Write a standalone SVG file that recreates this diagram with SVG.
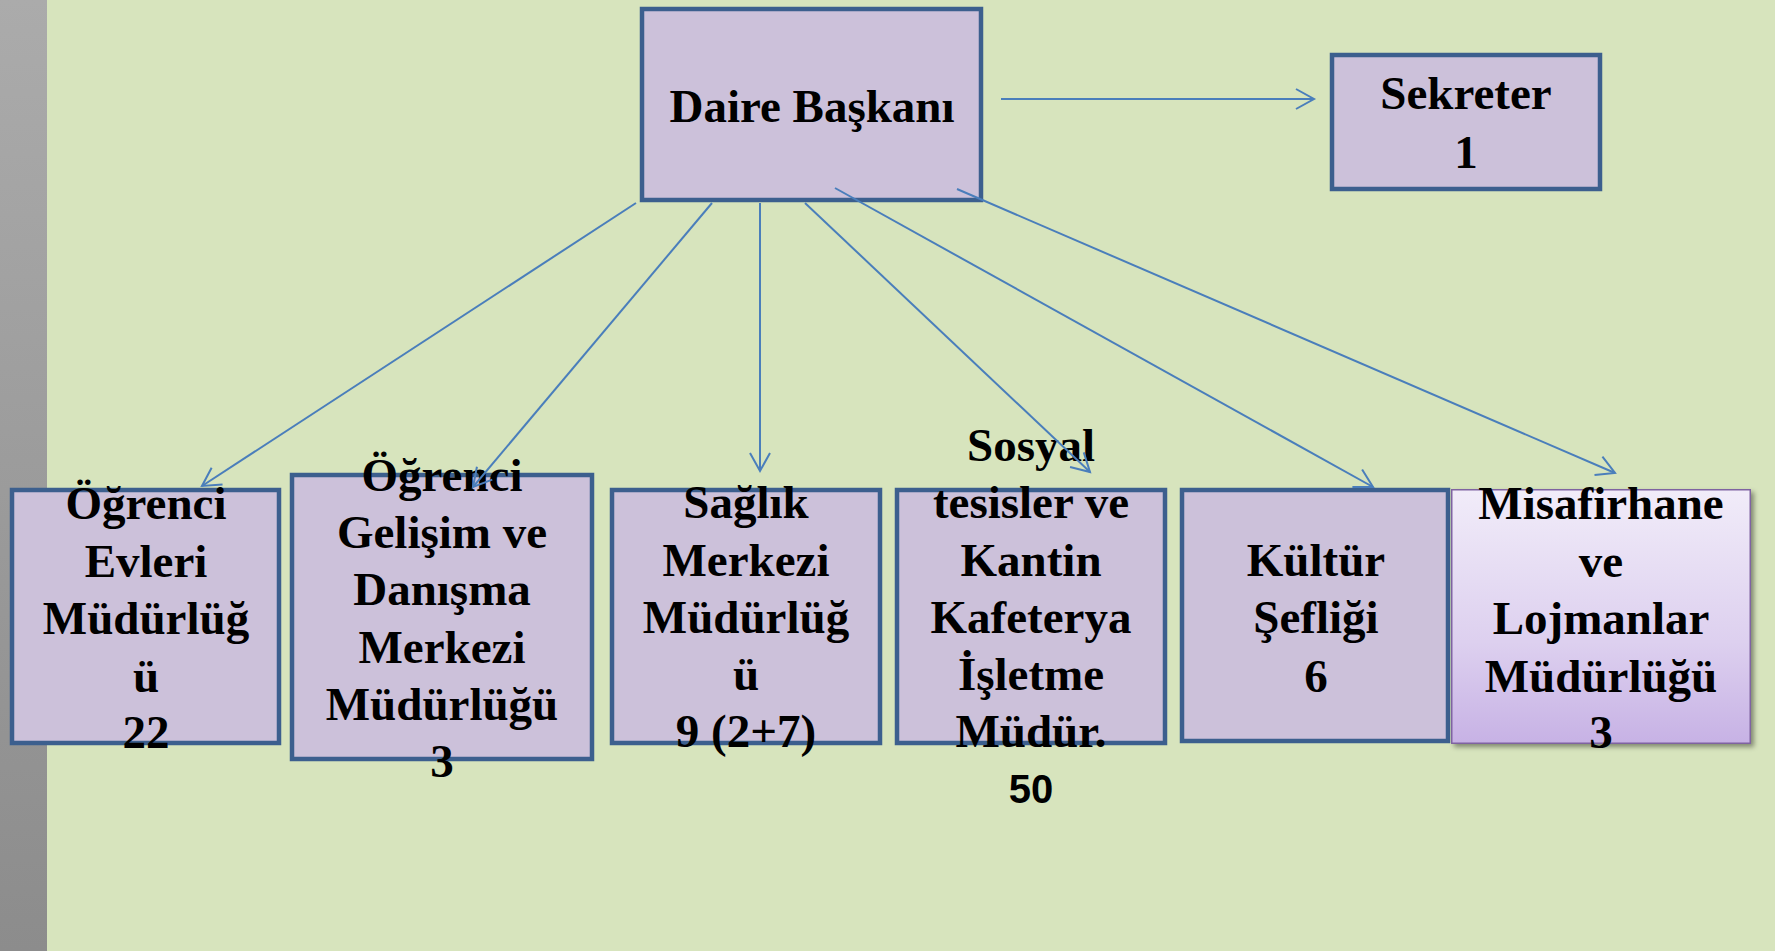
<svg xmlns="http://www.w3.org/2000/svg" width="1775" height="951" viewBox="0 0 1775 951">
<defs>
<linearGradient id="bar" x1="0" y1="0" x2="0" y2="1">
<stop offset="0" stop-color="#ababab"/>
<stop offset="1" stop-color="#8c8c8c"/>
</linearGradient>
<linearGradient id="mis" x1="0" y1="0" x2="0" y2="1">
<stop offset="0" stop-color="#f1ecf9"/>
<stop offset="0.6" stop-color="#ddd0ef"/>
<stop offset="1" stop-color="#c7b2e5"/>
</linearGradient>
<filter id="sh" x="-10%" y="-10%" width="130%" height="130%">
<feDropShadow dx="3" dy="3" stdDeviation="2.5" flood-color="#000" flood-opacity="0.4"/>
</filter>
<marker id="ah" markerUnits="userSpaceOnUse" markerWidth="24" markerHeight="26" viewBox="-20 -12 24 24" refX="0" refY="0" orient="auto">
<path d="M-18,-10 L0,0 L-18,10" fill="none" stroke="#4a7ebb" stroke-width="2"/>
</marker>
<style>
.box{fill:#ccc1da;stroke:#3c5f8e;stroke-width:4.5}
.t{font-family:"Liberation Serif","Times New Roman",serif;font-weight:bold;font-size:47px;fill:#000;text-anchor:middle}
.n{font-family:"Liberation Sans",Arial,sans-serif;font-weight:bold;font-size:40px;fill:#000;text-anchor:middle}
.c{fill:none;stroke:#4a7ebb;stroke-width:2;marker-end:url(#ah)}
</style>
</defs>
<rect x="0" y="0" width="1775" height="951" fill="#d7e4bd"/>
<rect x="0" y="0" width="47" height="951" fill="url(#bar)"/>

<g id="daire">
<rect class="box" x="642" y="9" width="339" height="191"/>
<text class="t" x="812" y="122">Daire Başkanı</text>
</g>
<g id="sekreter">
<rect class="box" x="1332" y="55" width="268" height="134"/>
<text class="t" x="1466" y="109">Sekreter</text>
<text class="t" x="1466" y="168">1</text>
</g>
<g id="ogrenci-evleri">
<rect class="box" x="12" y="490" width="267" height="253"/>
<text class="t" x="146" y="519">Öğrenci</text>
<text class="t" x="146" y="577">Evleri</text>
<text class="t" x="146" y="634">Müdürlüğ</text>
<text class="t" x="146" y="692">ü</text>
<text class="t" x="146" y="748">22</text>
</g>
<g id="ogrenci-gelisim">
<rect class="box" x="292" y="475" width="300" height="284"/>
<text class="t" x="442" y="491">Öğrenci</text>
<text class="t" x="442" y="548">Gelişim ve</text>
<text class="t" x="442" y="605">Danışma</text>
<text class="t" x="442" y="663">Merkezi</text>
<text class="t" x="442" y="720">Müdürlüğü</text>
<text class="t" x="442" y="777">3</text>
</g>
<g id="saglik">
<rect class="box" x="612" y="490" width="268" height="253"/>
<text class="t" x="746" y="518">Sağlık</text>
<text class="t" x="746" y="576">Merkezi</text>
<text class="t" x="746" y="633">Müdürlüğ</text>
<text class="t" x="746" y="690">ü</text>
<text class="t" x="746" y="747">9 (2+7)</text>
</g>
<g id="sosyal">
<rect class="box" x="897" y="490" width="268" height="253"/>
<text class="t" x="1031" y="461">Sosyal</text>
<text class="t" x="1031" y="518">tesisler ve</text>
<text class="t" x="1031" y="576">Kantin</text>
<text class="t" x="1031" y="633">Kafeterya</text>
<text class="t" x="1031" y="690">İşletme</text>
<text class="t" x="1031" y="747">Müdür.</text>
<text class="n" x="1031" y="803">50</text>
</g>
<g id="kultur">
<rect class="box" x="1182" y="490" width="266" height="251"/>
<text class="t" x="1316" y="576">Kültür</text>
<text class="t" x="1316" y="633">Şefliği</text>
<text class="t" x="1316" y="692">6</text>
</g>
<g id="misafirhane">
<rect x="1451.75" y="489.75" width="298.5" height="253.5" fill="url(#mis)" stroke="#7f63a1" stroke-width="1.5" filter="url(#sh)"/>
<text class="t" x="1601" y="519">Misafirhane</text>
<text class="t" x="1601" y="577">ve</text>
<text class="t" x="1601" y="634">Lojmanlar</text>
<text class="t" x="1601" y="692">Müdürlüğü</text>
<text class="t" x="1601" y="748">3</text>
</g>

<g id="connectors">
<line class="c" x1="1001" y1="99" x2="1314" y2="99"/>
<line class="c" x1="636" y1="203" x2="202" y2="486"/>
<line class="c" x1="712" y1="203" x2="473" y2="487"/>
<line class="c" x1="760" y1="203" x2="760" y2="471"/>
<line class="c" x1="805" y1="203" x2="1090" y2="472"/>
<line class="c" x1="835" y1="188" x2="1373" y2="487"/>
<line class="c" x1="957" y1="189" x2="1615" y2="473"/>
</g>
</svg>
